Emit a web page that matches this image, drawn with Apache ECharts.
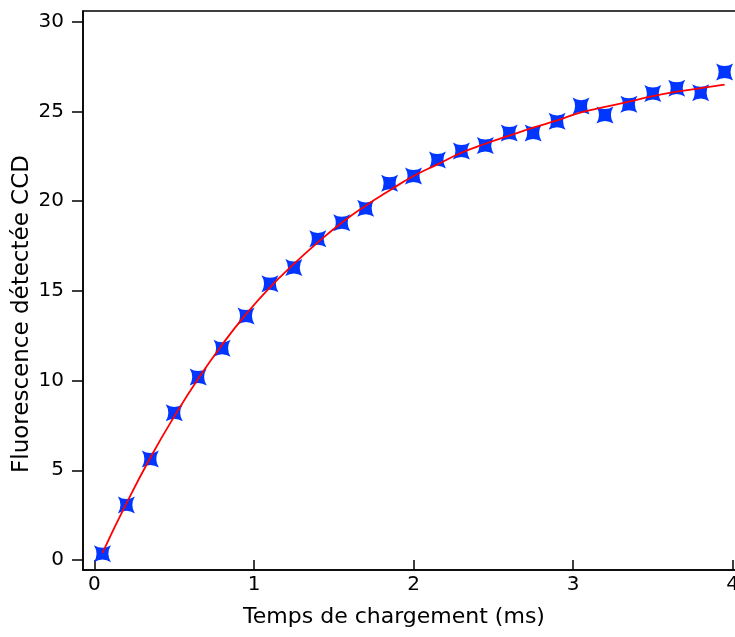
<!DOCTYPE html>
<html>
<head>
<meta charset="utf-8">
<script src="https://cdn.jsdelivr.net/npm/echarts@6/dist/echarts.min.js"></script>
<style>html,body{margin:0;padding:0;background:#fff;}#c{width:735px;height:637px;}</style>
</head>
<body>
<div id="c"></div>
<script>
// Measured points
const timeMs = [0.05,0.2,0.35,0.5,0.65,0.8,0.95,1.1,1.25,1.4,1.55,1.7,1.85,2.0,2.15,2.3,2.45,2.6,2.75,2.9,3.05,3.2,3.35,3.5,3.65,3.8,3.95];
const fluo = [0.35,3.07,5.63,8.2,10.2,11.8,13.6,15.4,16.3,17.9,18.8,19.6,21.0,21.4,22.3,22.8,23.1,23.8,23.8,24.45,25.3,24.8,25.4,26.0,26.3,26.05,27.2];
// Fitted curve
const fitTime = [0.05,0.2,0.35,0.5,0.65,0.8,0.95,1.1,1.25,1.4,1.55,1.7,1.85,2.0,2.15,2.3,2.45,2.6,2.75,2.9,3.05,3.2,3.35,3.5,3.65,3.8,3.95];
const fitVal = [0.4,3.15,5.7,8.0,10.1,12.0,13.7,15.2,16.5,17.7,18.8,19.75,20.6,21.4,22.05,22.7,23.2,23.65,24.1,24.5,24.95,25.25,25.55,25.85,26.1,26.3,26.5];
const xTicks = [0,1,2,3,4];
const yTicks = [0,5,10,15,20,25,30];

const font = '"DejaVu Sans", sans-serif';
const chart = echarts.init(document.getElementById('c'), null, {renderer:'canvas'});
const star = 'path://M-10,-10 Q0,-4 10,-10 Q4,0 10,10 Q0,4 -10,10 Q-4,0 -10,-10 Z';
chart.setOption({
  animation:false,
  backgroundColor:'#fff',
  grid:{left:83, top:11, right:-3, bottom:67, show:true, borderColor:'#000', borderWidth:1.5, outerBoundsMode:'none', containLabel:false},
  xAxis:{
    type:'value', min:-0.072, max:4.034,
    axisLine:{onZero:false, lineStyle:{color:'#000', width:1.5}},
    axisTick:{show:true, inside:true, length:10, customValues:xTicks, lineStyle:{color:'#000', width:1.5}},
    axisLabel:{customValues:xTicks, margin:5, color:'#000', fontSize:20, fontFamily:font, hideOverlap:false},
    splitLine:{show:false}
  },
  yAxis:{
    type:'value', min:-0.56, max:30.6,
    axisLine:{show:true, onZero:false, lineStyle:{color:'#000', width:1.5}},
    axisTick:{show:true, inside:false, length:11, customValues:yTicks, lineStyle:{color:'#000', width:1.5}},
    axisLabel:{customValues:yTicks, margin:19, color:'#000', fontSize:20, fontFamily:font},
    splitLine:{show:false}
  },
  graphic:[
    {type:'text', x:394, y:617, style:{text:'Temps de chargement (ms)', fill:'#000', font:'22px '+font, textAlign:'center', textVerticalAlign:'middle'}},
    {type:'text', x:22, y:314, rotation:Math.PI/2, style:{text:'Fluorescence détectée CCD', fill:'#000', font:'23px '+font, textAlign:'center', textVerticalAlign:'middle'}}
  ],
  series:[
    {type:'scatter', z:2, data:timeMs.map((t,i)=>[t,fluo[i]]), symbol:star, symbolSize:17,
     itemStyle:{color:'#0036ff', opacity:1}},
    {type:'line', z:3, data:fitTime.map((t,i)=>[t,fitVal[i]]), smooth:true, showSymbol:false, symbol:'none',
     lineStyle:{color:'#ff0000', width:1.8}}
  ]
});
</script>
</body>
</html>
